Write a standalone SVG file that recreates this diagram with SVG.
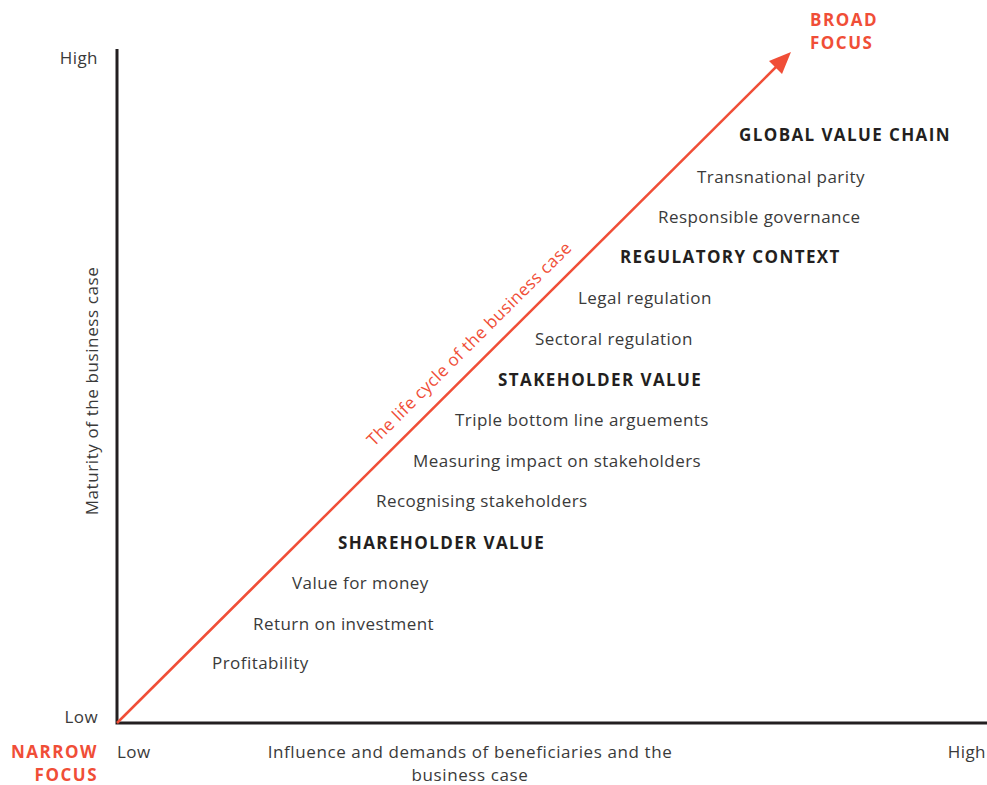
<svg xmlns="http://www.w3.org/2000/svg" width="987" height="785" viewBox="0 0 987 785">
<defs>
<style>
text{font-family:"Open Sans","Noto Sans",sans-serif;font-size:17px;fill:#3a3a3a;letter-spacing:0.45px}
.b{font-weight:bold;fill:#231f20;letter-spacing:1.4px}
.r{fill:#f04e37;font-weight:bold;letter-spacing:1.5px}
.rt{fill:#f04e37}
.axis{stroke:#231f20;stroke-width:3;fill:none}
.arrow{stroke:#f04e37;stroke-width:2.5;fill:none}
.head{fill:#f04e37}
</style>
</defs>
<rect width="987" height="785" fill="#fff"/>
<g id="connectors">
<path class="axis" d="M117,49 V723 H987"/>
<line class="arrow" x1="117" y1="723" x2="780" y2="63"/>
<path class="head" d="M791,52 L769,61 L782,74 z"/>
</g>
<g id="axis-labels">
<text x="98" y="64" text-anchor="end">High</text>
<text x="98" y="723" text-anchor="end">Low</text>
<text x="117" y="758">Low</text>
<text x="986" y="758" text-anchor="end">High</text>
<text x="470" y="758" text-anchor="middle" style="letter-spacing:0.6px">Influence and demands of beneficiaries and the</text>
<text x="470" y="781" text-anchor="middle" style="letter-spacing:0.6px">business case</text>
<text transform="translate(98,391) rotate(-90)" text-anchor="middle" style="letter-spacing:0.6px">Maturity of the business case</text>
<text class="r" x="98" y="758" text-anchor="end">NARROW</text>
<text class="r" x="98" y="781" text-anchor="end">FOCUS</text>
<text class="r" x="810" y="26">BROAD</text>
<text class="r" x="810" y="49">FOCUS</text>
<text class="rt" transform="translate(374,447) rotate(-44.9)">The life cycle of the business case</text>
</g>
<g id="global-value-chain">
<text class="b" x="739" y="141">GLOBAL VALUE CHAIN</text>
<text x="697" y="183">Transnational parity</text>
<text x="658" y="223">Responsible governance</text>
</g>
<g id="regulatory-context">
<text class="b" x="620" y="263">REGULATORY CONTEXT</text>
<text x="578" y="304">Legal regulation</text>
<text x="535" y="345">Sectoral regulation</text>
</g>
<g id="stakeholder-value">
<text class="b" x="498" y="386">STAKEHOLDER VALUE</text>
<text x="455" y="426">Triple bottom line arguements</text>
<text x="413" y="467">Measuring impact on stakeholders</text>
<text x="376" y="507">Recognising stakeholders</text>
</g>
<g id="shareholder-value">
<text class="b" x="338" y="549">SHAREHOLDER VALUE</text>
<text x="292" y="589">Value for money</text>
<text x="253" y="630">Return on investment</text>
<text x="212" y="669">Profitability</text>
</g>
</svg>
